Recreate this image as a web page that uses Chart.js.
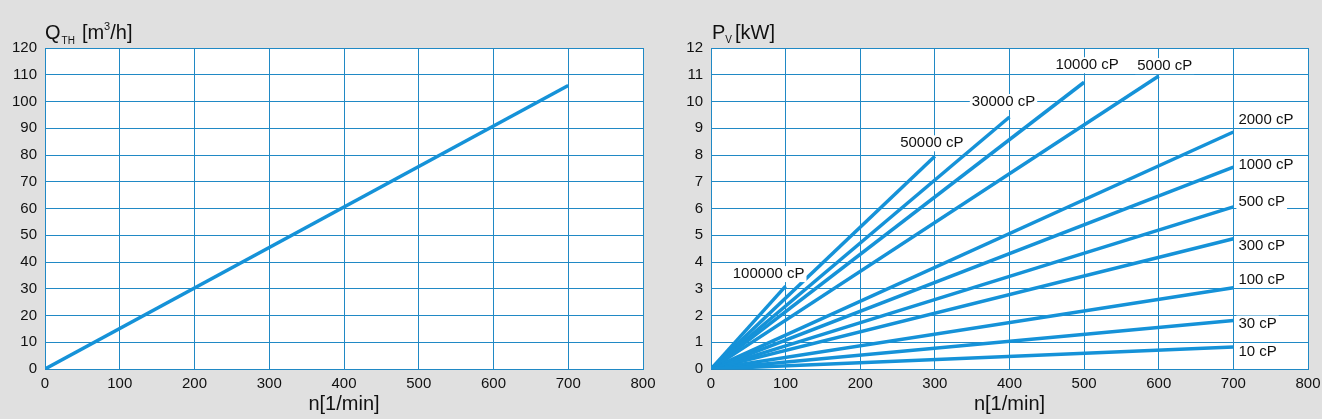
<!DOCTYPE html>
<html lang="de">
<head>
<meta charset="UTF-8" />
<title>Q_TH und P_V über n</title>
<style>
  body { margin: 0; background: #e0e0e0; font-family: "Liberation Sans", Arial, sans-serif; }
  .row { display: flex; width: 1322px; height: 419px; }
  canvas { display: block; }
</style>
</head>
<body>
<div class="row">
  <canvas id="flowChart" width="661" height="419"></canvas>
  <canvas id="powerChart" width="661" height="419"></canvas>
</div>
<script src="https://cdn.jsdelivr.net/npm/chart.js"></script>
<script>
// --- data ---
const flowSpeed = [0, 700]          // n [1/min]
const flowValue = [0, 106]          // Q_TH [m3/h]

const viscosityNames = ["10 cP", "30 cP", "100 cP", "300 cP", "500 cP", "1000 cP",
  "2000 cP", "5000 cP", "10000 cP", "30000 cP", "50000 cP", "100000 cP"]
const powerStartSpeed = 0
const powerStartValue = 0
const powerEndSpeed = [700, 700, 700, 700, 700, 700, 700, 600, 500, 400, 300, 100]
const powerEndValue = [0.82, 1.81, 3.04, 4.87, 6.06, 7.55, 8.86, 10.95, 10.72, 9.42, 7.95, 3.1]

const speedTicks = { min: 0, max: 800, step: 100 }
const flowTicks = { min: 0, max: 120, step: 10 }
const powerTicks = { min: 0, max: 12, step: 1 }

// label placement next to each curve end (pixels), kept apart from data
const labelPlace = [
  { align: "left", dx: 5, dy: 5 },
  { align: "left", dx: 5, dy: 3 },
  { align: "left", dx: 5, dy: -8 },
  { align: "left", dx: 5, dy: 7 },
  { align: "left", dx: 5, dy: -5 },
  { align: "left", dx: 5, dy: -2 },
  { align: "left", dx: 5, dy: -12 },
  { align: "center", dx: 6, dy: -10 },
  { align: "center", dx: 3, dy: -17 },
  { align: "center", dx: -6, dy: -15 },
  { align: "center", dx: -3, dy: -13 },
  { align: "center", dx: -17, dy: -12 },
]

const lineColor = "#1592d8"
const gridColor = "#2089c5"
const textColor = "#111111"
const fontFamily = '"Liberation Sans", Arial, sans-serif'

// white plot background
const plotBg = {
  id: "plotBg",
  beforeDraw(chart) {
    const a = chart.chartArea
    const ctx = chart.ctx
    ctx.save()
    ctx.fillStyle = "#ffffff"
    ctx.fillRect(a.left, a.top, a.right - a.left, a.bottom - a.top)
    ctx.restore()
  },
}

// axis titles: y title above the plot (with sub/superscripts), x title below
function titlePlugin(parts, dxStart) {
  return {
    id: "axisTitles",
    afterDraw(chart) {
      const a = chart.chartArea
      const ctx = chart.ctx
      ctx.save()
      ctx.fillStyle = textColor
      ctx.textBaseline = "alphabetic"
      ctx.textAlign = "left"
      let x = a.left + dxStart
      const base = 39
      parts.forEach((p) => {
        ctx.font = p.size + "px " + fontFamily
        ctx.fillText(p.text, x, base + (p.shift || 0))
        x += ctx.measureText(p.text).width + (p.gap || 0)
      })
      ctx.font = "20px " + fontFamily
      ctx.textAlign = "center"
      ctx.textBaseline = "middle"
      ctx.fillText("n[1/min]", (a.left + a.right) / 2, a.bottom + 35)
      ctx.restore()
    },
  }
}

// curve labels with white boxes
const curveLabels = {
  id: "curveLabels",
  afterDatasetsDraw(chart) {
    const ctx = chart.ctx
    ctx.save()
    ctx.font = "15px " + fontFamily
    ctx.textBaseline = "middle"
    viscosityNames.forEach((name, i) => {
      const meta = chart.getDatasetMeta(i)
      const pt = meta.data[meta.data.length - 1]
      const place = labelPlace[i]
      const w = ctx.measureText(name).width
      let x = pt.x + place.dx
      const y = pt.y + place.dy
      if (place.align === "center") x -= w / 2
      ctx.fillStyle = "#ffffff"
      ctx.fillRect(x - 2, y - 8, w + 4, 16)
      ctx.fillStyle = textColor
      ctx.textAlign = "left"
      ctx.fillText(name, x, y)
    })
    ctx.restore()
  },
}

function makeChart(id, datasets, yTicks, yWidth, padRight, plugins) {
  const tickFont = { family: fontFamily, size: 15 }
  return new Chart(document.getElementById(id), {
    type: "line",
    data: { datasets: datasets },
    options: {
      responsive: false,
      animation: false,
      events: [],
      layout: { padding: { top: 48, right: padRight, left: 0, bottom: 0 } },
      plugins: { legend: { display: false }, tooltip: { enabled: false } },
      scales: {
        x: {
          type: "linear",
          min: speedTicks.min,
          max: speedTicks.max,
          ticks: { stepSize: speedTicks.step, padding: 6, color: textColor, font: tickFont, maxRotation: 0 },
          grid: { color: gridColor, lineWidth: 1, drawTicks: false },
          border: { color: gridColor, width: 1 },
          afterFit(s) {
            s.height = 50
            s.paddingLeft = 0
            s.paddingRight = 0
          },
        },
        y: {
          type: "linear",
          min: yTicks.min,
          max: yTicks.max,
          ticks: { stepSize: yTicks.step, padding: 8, color: textColor, font: tickFont },
          grid: { color: gridColor, lineWidth: 1, drawTicks: false },
          border: { color: gridColor, width: 1 },
          afterFit(s) {
            s.width = yWidth
            s.paddingTop = 0
            s.paddingBottom = 0
          },
        },
      },
    },
    plugins: plugins,
  })
}

const lineStyle = { borderColor: lineColor, borderWidth: 3.5, pointRadius: 0, tension: 0, fill: false }

const flowData = flowSpeed.map((n, i) => ({ x: n, y: flowValue[i] }))
makeChart("flowChart", [Object.assign({ data: flowData }, lineStyle)], flowTicks, 45, 18, [
  plotBg,
  titlePlugin([
    { text: "Q", size: 20, gap: 1 },
    { text: "TH", size: 10, shift: 5, gap: 7 },
    { text: "[m", size: 20 },
    { text: "3", size: 11, shift: -9 },
    { text: "/h]", size: 20 },
  ], 0),
])

const powerSets = viscosityNames.map((name, i) => Object.assign({
  label: name,
  data: [
    { x: powerStartSpeed, y: powerStartValue },
    { x: powerEndSpeed[i], y: powerEndValue[i] },
  ],
}, lineStyle))
makeChart("powerChart", powerSets, powerTicks, 50, 14, [
  plotBg,
  curveLabels,
  titlePlugin([
    { text: "P", size: 20, gap: 0 },
    { text: "V", size: 10, shift: 4, gap: 3 },
    { text: "[kW]", size: 20 },
  ], 1),
])
</script>
</body>
</html>
